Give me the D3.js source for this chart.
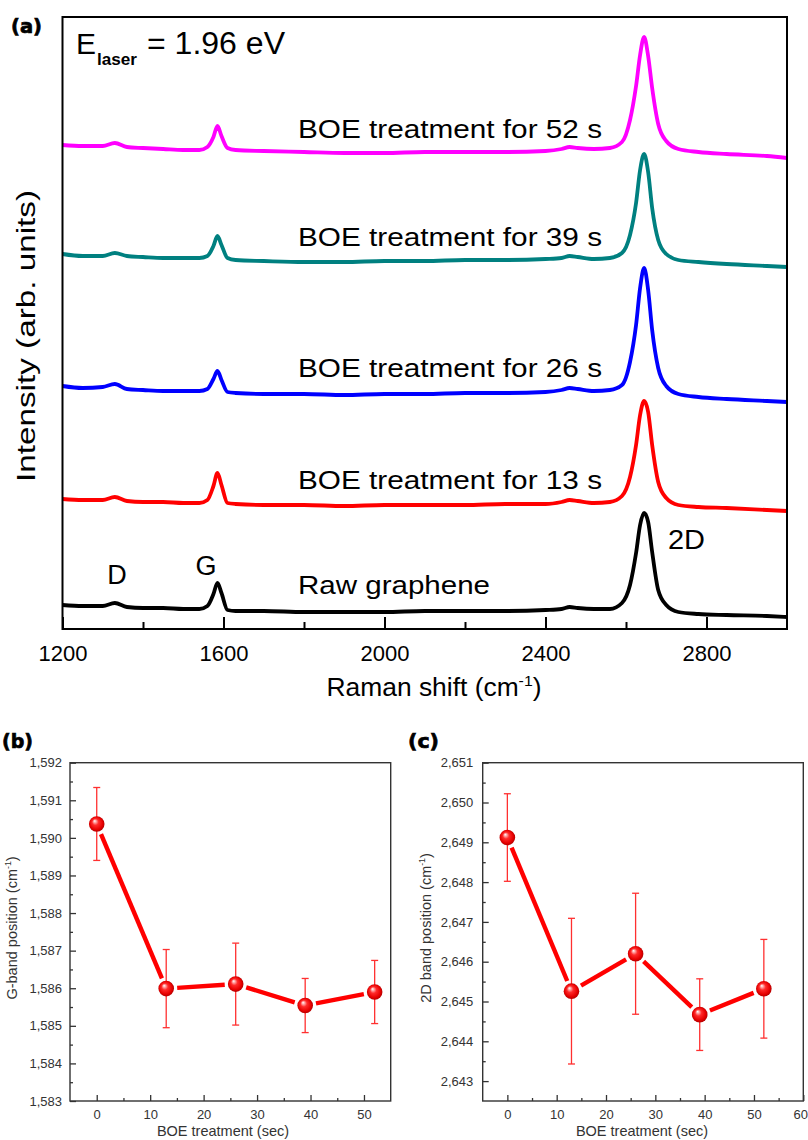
<!DOCTYPE html>
<html>
<head>
<meta charset="utf-8">
<script src="https://cdn.jsdelivr.net/npm/d3@7/dist/d3.min.js"></script>
<style>
    body { margin: 0; background: #fff; }
    svg { display: block; }
</style>
</head>
<body>
<div id="chart"></div>
<script>
// (a) Raman spectra. Intensities are stacked (arb. units)
const ramanShift = [1200, 1250, 1300, 1330, 1360, 1400, 1450, 1500, 1540, 1560,
    1575, 1585, 1595, 1610, 1630, 1700, 1800, 1900, 2000, 2100,
    2200, 2300, 2400, 2440, 2460, 2480, 2520, 2560, 2590, 2610,
    2625, 2635, 2645, 2655, 2665, 2680, 2700, 2730, 2780, 2850, 2950, 3000];

const rawGraphene = [24, 23, 23, 26, 22, 21, 21, 20, 20, 23,
    35, 46, 36, 19, 18, 18, 17, 17, 17, 18,
    18, 18, 19, 20, 22, 21, 20, 20, 26, 44,
    76, 104, 116, 107, 77, 39, 24, 17, 15, 14, 13, 12];
const boe13s = [130, 129, 129, 132, 128, 127, 127, 126, 126, 129,
    143, 156, 144, 126, 125, 124, 124, 123, 124, 124,
    124, 125, 125, 127, 129, 128, 126, 127, 133, 152,
    184, 214, 228, 217, 184, 147, 131, 124, 122, 121, 119, 118];
const boe26s = [243, 241, 242, 245, 240, 239, 238, 238, 238, 240,
    250, 258, 249, 237, 236, 235, 235, 234, 235, 235,
    236, 236, 237, 239, 241, 240, 238, 239, 244, 267,
    304, 341, 361, 339, 299, 261, 243, 235, 232, 230, 228, 227];
const boe39s = [375, 373, 373, 376, 373, 372, 371, 371, 371, 373,
    383, 393, 384, 371, 369, 368, 367, 367, 368, 368,
    369, 369, 370, 371, 373, 372, 370, 371, 376, 394,
    426, 459, 475, 457, 421, 389, 375, 369, 367, 365, 363, 362];
const boe52s = [484, 483, 483, 486, 482, 481, 480, 479, 479, 482,
    492, 503, 493, 481, 479, 478, 477, 476, 476, 477,
    477, 477, 478, 480, 482, 481, 480, 481, 487, 509,
    543, 574, 592, 573, 541, 505, 488, 480, 477, 475, 473, 471];

const spectrumNames = ["Raw graphene", "BOE treatment for 13 s", "BOE treatment for 26 s",
    "BOE treatment for 39 s", "BOE treatment for 52 s"];
const shiftTicks = [1200, 1600, 2000, 2400, 2800];

// (b), (c) band positions vs. BOE time
const boeTime = [0, 13, 26, 39, 52];
const gBandPos = [1590.37, 1585.99, 1586.11, 1585.54, 1585.90];
const gBandErr = [0.97, 1.04, 1.09, 0.72, 0.84];
const band2DPos = [2649.12, 2645.26, 2646.20, 2644.67, 2645.32];
const band2DErr = [1.10, 1.83, 1.52, 0.90, 1.24];

const W = 808, H = 1140;
const FONT = "'Liberation Sans', Arial, Helvetica, sans-serif";

const svg = d3.select("#chart").append("svg")
    .attr("width", W).attr("height", H)
    .attr("font-family", FONT);

const defs = svg.append("defs");

function addText(g, str, x, y, size, opt = {}) {
    const t = g.append("text")
        .attr("x", x).attr("y", y)
        .attr("font-size", size)
        .attr("fill", opt.fill || "#000")
        .attr("text-anchor", opt.anchor || "start")
        .text(str);
    if (opt.weight) t.attr("font-weight", opt.weight);
    if (opt.family) t.attr("font-family", opt.family);
    if (opt.fit) t.attr("textLength", opt.fit).attr("lengthAdjust", "spacingAndGlyphs");
    return t;
}

// text with a "-1" superscript before the closing bracket
function addUnitText(g, head, x, y, size, opt = {}) {
    const t = g.append("text")
        .attr("x", x).attr("y", y)
        .attr("font-size", size)
        .attr("fill", opt.fill || "#000")
        .attr("text-anchor", opt.anchor || "middle");
    if (opt.rotate) t.attr("transform", `rotate(-90,${x},${y})`);
    t.append("tspan").text(head);
    t.append("tspan").attr("font-size", size * 0.6).attr("dy", -size * 0.42).text("-1");
    t.append("tspan").attr("dy", size * 0.42).text(")");
    if (opt.fit) t.attr("textLength", opt.fit).attr("lengthAdjust", "spacingAndGlyphs");
    return t;
}

function panelTag(g, str, x, y) {
    // heavy bold tag like "(a)"
    addText(g, str, x, y, 19.5, { weight: "bold", family: "'DejaVu Sans', sans-serif", fit: 31 })
        .attr("stroke", "#000").attr("stroke-width", 0.7);
}

function drawSpectraPanel() {
    const box = { left: 62.5, top: 17, right: 787, bottom: 629 };
    const x = d3.scaleLinear().domain([1200, 3000]).range([box.left, box.right]);
    const y = d3.scaleLinear().domain([0, 612]).range([box.bottom, box.top]);
    const g = svg.append("g");

    defs.append("clipPath").attr("id", "specClip")
        .append("rect")
        .attr("x", box.left).attr("y", box.top)
        .attr("width", box.right - box.left).attr("height", box.bottom - box.top);

    const series = [
        { values: rawGraphene, color: "#000000" },
        { values: boe13s, color: "#ff0000" },
        { values: boe26s, color: "#0000ff" },
        { values: boe39s, color: "#008080" },
        { values: boe52s, color: "#ff00ff" }
    ];

    const line = d3.line()
        .x((d, i) => x(ramanShift[i]))
        .y(d => y(d))
        .curve(d3.curveMonotoneX);

    g.append("g").attr("clip-path", "url(#specClip)")
        .selectAll("path")
        .data(series)
        .join("path")
        .attr("d", d => line(d.values))
        .attr("fill", "none")
        .attr("stroke", d => d.color)
        .attr("stroke-width", 3.8)
        .attr("stroke-linejoin", "round");

    // bottom axis, ticks inside
    const axisG = g.append("g").attr("transform", `translate(0,${box.bottom})`);
    axisG.call(d3.axisBottom(x).tickValues(shiftTicks).tickSizeInner(-12).tickSizeOuter(0)
        .tickPadding(16).tickFormat(d3.format("d")));
    const minorG = g.append("g").attr("transform", `translate(0,${box.bottom})`);
    minorG.call(d3.axisBottom(x).tickValues(d3.range(1400, 3000, 400)).tickSizeInner(-7)
        .tickSizeOuter(0).tickFormat(""));
    [axisG, minorG].forEach(a => {
        a.select(".domain").remove();
        a.selectAll(".tick line").attr("stroke", "#000").attr("stroke-width", 2);
    });
    axisG.selectAll("text").attr("font-size", 22).attr("font-family", FONT).attr("fill", "#000");

    g.append("rect")
        .attr("x", box.left).attr("y", box.top)
        .attr("width", box.right - box.left).attr("height", box.bottom - box.top)
        .attr("fill", "none").attr("stroke", "#000").attr("stroke-width", 2);

    // titles
    addUnitText(g, "Raman shift (cm", 434, 696, 25, { fit: 215 });
    addText(g, "Intensity (arb. units)", 35, 336, 26, { anchor: "middle", fit: 292 })
        .attr("transform", "rotate(-90,35,336)");

    // curve labels
    const labelBaseline = [593.5, 489, 377, 245.5, 137.5];
    spectrumNames.forEach((name, i) => {
        addText(g, name, 298, labelBaseline[i], 26, { fit: i === 0 ? 192 : 304 });
    });

    addText(g, "D", 117, 584, 27, { anchor: "middle" });
    addText(g, "G", 206, 575, 27, { anchor: "middle" });
    addText(g, "2D", 668, 549, 27, { fit: 37 });

    addText(g, "E", 76, 53.5, 30, { fit: 20 });
    addText(g, "laser", 97, 65, 17, { weight: "bold", fit: 40 });
    addText(g, "= 1.96 eV", 147, 53.5, 31, { fit: 138 });

    panelTag(g, "(a)", 11, 32.5);
}

function drawShiftPanel(cfg) {
    const box = cfg.box;
    const x = d3.scaleLinear().domain(cfg.xDomain).range([box.left, box.right]);
    const y = d3.scaleLinear().domain(cfg.yDomain).range([box.bottom, box.top]);
    const g = svg.append("g");
    const axisColor = "#333";

    const xMajor = g.append("g").attr("transform", `translate(0,${box.bottom})`)
        .call(d3.axisBottom(x).tickValues(cfg.xMajor).tickSizeInner(-6).tickSizeOuter(0).tickPadding(9));
    const xMinor = g.append("g").attr("transform", `translate(0,${box.bottom})`)
        .call(d3.axisBottom(x).tickValues(cfg.xMinor).tickSizeInner(-3).tickSizeOuter(0).tickFormat(""));
    const yMajor = g.append("g").attr("transform", `translate(${box.left},0)`)
        .call(d3.axisLeft(y).tickValues(cfg.yMajor).tickSizeInner(-6).tickSizeOuter(0)
            .tickPadding(cfg.yPad).tickFormat(d3.format(",")));
    const yMinor = g.append("g").attr("transform", `translate(${box.left},0)`)
        .call(d3.axisLeft(y).tickValues(cfg.yMinor).tickSizeInner(-3).tickSizeOuter(0).tickFormat(""));

    [xMajor, xMinor, yMajor, yMinor].forEach(a => {
        a.select(".domain").remove();
        a.selectAll(".tick line").attr("stroke", axisColor).attr("stroke-width", 1.3);
        a.selectAll("text").attr("font-size", 13).attr("font-family", FONT).attr("fill", axisColor);
    });

    // keep a label that sits on the page edge inside the page
    xMajor.selectAll(".tick text")
        .filter(d => x(d) + 8 > W)
        .attr("text-anchor", "end")
        .attr("x", d => W - 0.5 - x(d));

    g.append("rect")
        .attr("x", box.left).attr("y", box.top)
        .attr("width", box.right - box.left).attr("height", box.bottom - box.top)
        .attr("fill", "none").attr("stroke", axisColor).attr("stroke-width", 1.4);

    const pts = boeTime.map((t, i) => ({
        x: x(t),
        y: y(cfg.values[i]),
        lo: y(cfg.values[i] - cfg.errors[i]),
        hi: y(cfg.values[i] + cfg.errors[i])
    }));

    // error bars
    const eb = g.append("g").attr("stroke", "#ff3030").attr("stroke-width", 1.3);
    pts.forEach(p => {
        eb.append("line").attr("x1", p.x).attr("x2", p.x).attr("y1", p.lo).attr("y2", p.hi);
        eb.append("line").attr("x1", p.x - 3.5).attr("x2", p.x + 3.5).attr("y1", p.lo).attr("y2", p.lo);
        eb.append("line").attr("x1", p.x - 3.5).attr("x2", p.x + 3.5).attr("y1", p.hi).attr("y2", p.hi);
    });

    // connecting segments leave a small gap around each symbol
    const gap = 11;
    d3.pairs(pts).forEach(([a, b]) => {
        const dx = b.x - a.x, dy = b.y - a.y;
        const len = Math.hypot(dx, dy);
        const ux = dx / len, uy = dy / len;
        g.append("line")
            .attr("x1", a.x + ux * gap).attr("y1", a.y + uy * gap)
            .attr("x2", b.x - ux * gap).attr("y2", b.y - uy * gap)
            .attr("stroke", "#ff0000").attr("stroke-width", 4.4);
    });

    g.selectAll("circle.sym")
        .data(pts)
        .join("circle")
        .attr("class", "sym")
        .attr("cx", d => d.x).attr("cy", d => d.y)
        .attr("r", 7.8)
        .attr("fill", "url(#sphere)");

    addText(g, "BOE treatment (sec)", cfg.xTitleX, 1136, 14.5, { anchor: "middle", fill: axisColor });
    addUnitText(g, cfg.yTitle, cfg.yTitleX, 928, 14.5, { rotate: true, fill: axisColor });
    panelTag(g, cfg.tag, cfg.tagX, 747.5);
}

// shaded red sphere symbol
const sphere = defs.append("radialGradient").attr("id", "sphere")
    .attr("cx", "50%").attr("cy", "50%").attr("r", "55%")
    .attr("fx", "36%").attr("fy", "30%");
[[0, "#ffffff"], [0.14, "#ffb0b0"], [0.38, "#ff2a2a"], [0.75, "#e60000"], [1, "#a00000"]]
    .forEach(([o, c]) => sphere.append("stop").attr("offset", o).attr("stop-color", c));

drawSpectraPanel();

drawShiftPanel({
    box: { left: 70, top: 762.7, right: 390.7, bottom: 1101 },
    xDomain: [-5, 55],
    yDomain: [1583, 1592],
    xMajor: d3.range(0, 51, 10),
    xMinor: d3.range(5, 50, 10),
    yMajor: d3.range(1583, 1593, 1),
    yMinor: d3.range(1583.5, 1592, 1),
    yPad: 8,
    values: gBandPos,
    errors: gBandErr,
    yTitle: "G-band position (cm",
    yTitleX: 17,
    xTitleX: 223,
    tag: "(b)",
    tagX: 2
});

drawShiftPanel({
    box: { left: 482.7, top: 762.7, right: 803.3, bottom: 1101 },
    xDomain: [-5, 60],
    yDomain: [2642.5, 2651],
    xMajor: d3.range(0, 61, 10),
    xMinor: d3.range(5, 60, 10),
    yMajor: d3.range(2643, 2652, 1),
    yMinor: d3.range(2643.5, 2651, 1),
    yPad: 9.5,
    values: band2DPos,
    errors: band2DErr,
    yTitle: "2D band position (cm",
    yTitleX: 431,
    xTitleX: 642,
    tag: "(c)",
    tagX: 408
});
</script>
</body>
</html>
